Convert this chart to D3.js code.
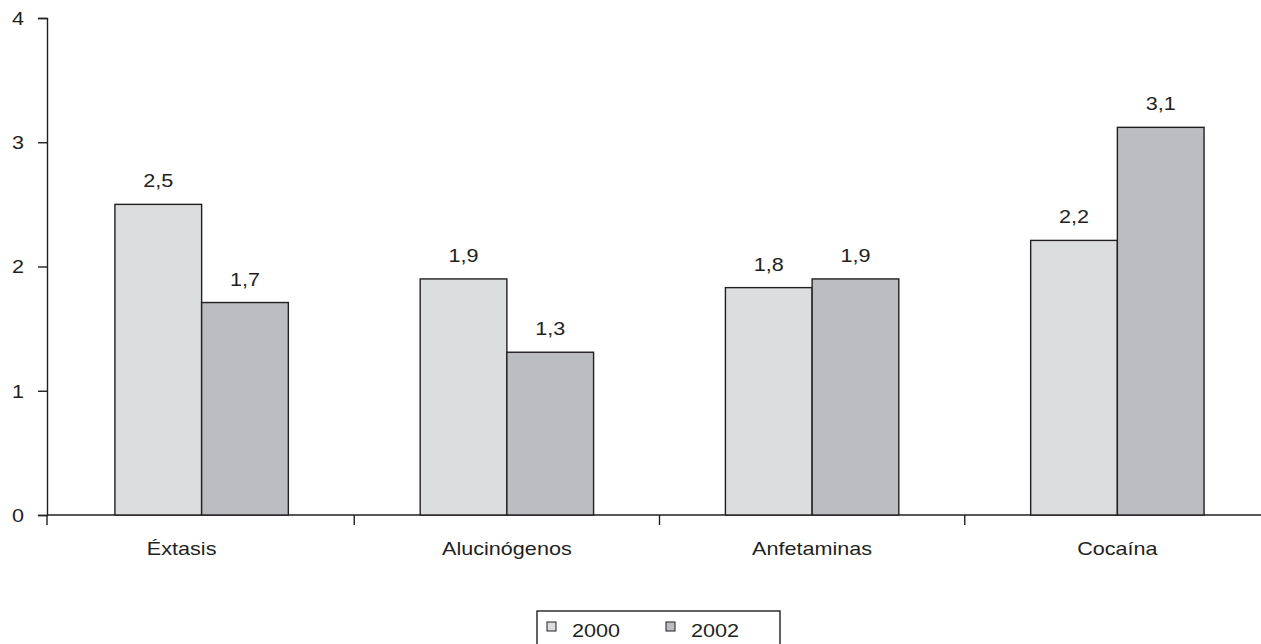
<!DOCTYPE html>
<html>
<head>
<meta charset="utf-8">
<script src="https://cdn.jsdelivr.net/npm/d3@7"></script>
<style>
    body { margin: 0; background: #fff; }
    text { font-family: "Liberation Sans", Arial, sans-serif; fill: #231f20; font-size: 18px; }
</style>
</head>
<body>
<div id="chart"></div>
<script>
// data
let categories = ["Éxtasis", "Alucinógenos", "Anfetaminas", "Cocaína"];
let years = ["2000", "2002"];
let values2000 = [2.5, 1.9, 1.83, 2.21];
let values2002 = [1.71, 1.31, 1.9, 3.12];
let yTicks = [0, 1, 2, 3, 4];

let colors = {"2000": "#dcdddf", "2002": "#bcbdc1"};
let ink = "#231f20";
let stretch = 1.2; // the type in the original is a bit wide

let width = 1261,
    height = 644;

let svg = d3.select("#chart").append("svg")
    .attr("width", width)
    .attr("height", height);

let x = d3.scaleBand()
    .domain(categories)
    .range([49, 1270]);

let y = d3.scaleLinear()
    .domain([0, 4])
    .range([515, 18]);

let inner = d3.scaleBand()
    .domain(years)
    .range([0, 173.4]);

let fmt = function (v) {
    return d3.format(".1f")(v).replace(".", ",");
};

function wideText(sel, tx, ty) {
    sel.attr("x", 0).attr("y", 0)
        .attr("transform", function (d, i) {
            return "translate(" + tx(d, i) + "," + ty(d, i) + ") scale(" + stretch + ",1)";
        });
}

// y axis
let yAxis = svg.append("g")
    .attr("transform", "translate(47,0)")
    .call(d3.axisLeft(y).tickValues(yTicks).tickSize(9).tickFormat(d3.format("d")));
yAxis.selectAll(".tick text")
    .attr("dy", "0.35em")
    .call(wideText, function () { return -23; }, function () { return 0; });

// x axis
let edges = categories.map(function (c) { return x(c); }).concat([x.range()[1]]);
let xAxis = svg.append("g");
xAxis.append("line")
    .attr("x1", 47).attr("x2", x.range()[1])
    .attr("y1", y(0)).attr("y2", y(0))
    .attr("stroke", ink).attr("stroke-width", 1.4);
xAxis.selectAll(".tickx")
    .data(edges)
    .enter()
    .append("line")
    .attr("class", "tickx")
    .attr("x1", function (d, i) { return i === 0 ? 47 : d; })
    .attr("x2", function (d, i) { return i === 0 ? 47 : d; })
    .attr("y1", y(0))
    .attr("y2", y(0) + 10)
    .attr("stroke", ink).attr("stroke-width", 1.4);

// the first label sits a little left of its group in the original
xAxis.selectAll(".catlabel")
    .data(categories)
    .enter()
    .append("text")
    .attr("class", "catlabel")
    .attr("text-anchor", "middle")
    .text(function (d) { return d; })
    .call(wideText, function (d, i) { return x(d) + x.bandwidth() / 2 - (i === 0 ? 20 : 0); }, function () { return 555; });

yAxis.select(".domain").attr("stroke", ink).attr("stroke-width", 1.4);
yAxis.selectAll(".tick line").attr("stroke", ink).attr("stroke-width", 1.4);

// bars
let rows = [];
categories.forEach(function (c, i) {
    rows.push({cat: c, year: "2000", value: values2000[i]});
    rows.push({cat: c, year: "2002", value: values2002[i]});
});

let offset = (x.bandwidth() - inner.range()[1]) / 2;

svg.selectAll(".bar")
    .data(rows)
    .enter()
    .append("rect")
    .attr("class", "bar")
    .attr("x", function (d) { return x(d.cat) + offset + inner(d.year); })
    .attr("y", function (d) { return y(d.value); })
    .attr("width", inner.bandwidth())
    .attr("height", function (d) { return y(0) - y(d.value); })
    .attr("fill", function (d) { return colors[d.year]; })
    .attr("stroke", ink)
    .attr("stroke-width", 1.4);

svg.selectAll(".vlabel")
    .data(rows)
    .enter()
    .append("text")
    .attr("class", "vlabel")
    .attr("text-anchor", "middle")
    .text(function (d) { return fmt(d.value); })
    .call(wideText,
        function (d) { return x(d.cat) + offset + inner(d.year) + inner.bandwidth() / 2; },
        function (d) { return y(d.value) - 17; });

// legend
let legend = svg.append("g");
legend.append("rect")
    .attr("x", 537).attr("y", 611)
    .attr("width", 243).attr("height", 50)
    .attr("fill", "#fff")
    .attr("stroke", ink).attr("stroke-width", 1.4);

let lx = [547, 666];
years.forEach(function (yr, i) {
    legend.append("rect")
        .attr("x", lx[i]).attr("y", 622)
        .attr("width", 9).attr("height", 9)
        .attr("fill", colors[yr])
        .attr("stroke", ink).attr("stroke-width", 1);
    legend.append("text")
        .datum(yr)
        .text(yr)
        .call(wideText, function () { return lx[i] + 25; }, function () { return 637; });
});
</script>
</body>
</html>
